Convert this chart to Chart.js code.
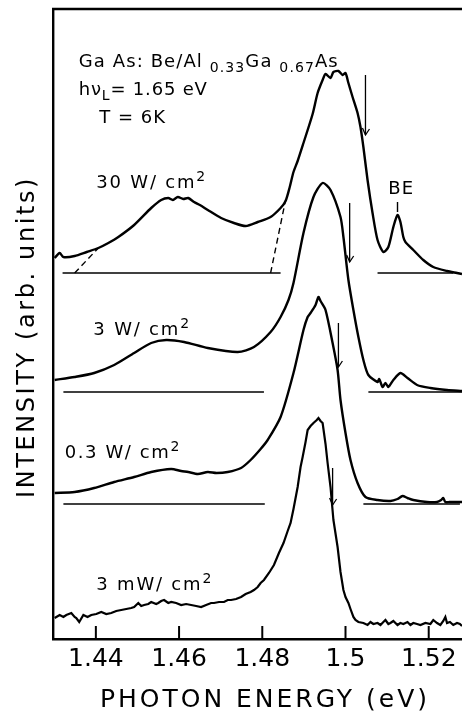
<!DOCTYPE html>
<html>
<head>
<meta charset="utf-8">
<script src="https://cdn.jsdelivr.net/npm/chart.js@4.4.1/dist/chart.umd.min.js"></script>
<style>
html, body { margin: 0; padding: 0; background: #fff; }
#wrap { width: 462px; height: 714px; }
</style>
</head>
<body>
<div id="wrap"><canvas id="myChart" width="462" height="714"></canvas></div>
<script>
// photon energy (eV) vs PL intensity (arb. units)
const xTicks = [1.44, 1.46, 1.48, 1.5, 1.52]

const energy30W = [1.4301,1.4313,1.4322,1.4349,1.4378,1.4406,1.4430,1.4454,1.4492,1.4533,1.4557,1.4574,1.4585,1.4597,1.4610,1.4622,1.4636,1.4650,1.4669,1.4701,1.4732,1.4760,1.4789,1.4820,1.4844,1.4856,1.4866,1.4875,1.4885,1.4899,1.4921,1.4933,1.4945,1.4952,1.4964,1.4971,1.4983,1.4993,1.5000,1.5007,1.5017,1.5029,1.5036,1.5043,1.5053,1.5065,1.5077,1.5091,1.5103,1.5115,1.5125,1.5132,1.5139,1.5144,1.5163,1.5187,1.5211,1.5244,1.5268,1.5280]
const int30W =    [381,386,382,383,387,391,396,402,414,431,439,441,439,442,440,441,437,434,429,421,416,413,417,422,431,438,452,467,478,496,525,546,559,565,561,567,568,564,566,556,542,526,512,492,459,426,399,387,392,412,424,417,402,397,389,379,372,368,366,365]

const energy3W = [1.4301,1.4349,1.4396,1.4444,1.4492,1.4533,1.4569,1.4612,1.4669,1.4741,1.4780,1.4820,1.4844,1.4863,1.4875,1.4899,1.4923,1.4945,1.4964,1.4988,1.4995,1.5007,1.5019,1.5031,1.5043,1.5055,1.5077,1.5081,1.5089,1.5096,1.5103,1.5115,1.5132,1.5149,1.5172,1.5204,1.5244,1.5280]
const int3W =    [259,262,266,274,286,296,299,297,291,287,292,307,322,339,356,406,442,456,449,422,402,359,329,302,279,264,257,260,252,256,252,259,266,261,254,251,249,248]

const energy03W = [1.4301,1.4349,1.4396,1.4444,1.4492,1.4533,1.4581,1.4605,1.4622,1.4645,1.4669,1.4690,1.4717,1.4749,1.4772,1.4796,1.4813,1.4844,1.4875,1.4899,1.4909,1.4916,1.4928,1.4935,1.4940,1.4952,1.4969,1.4981,1.4988,1.5000,1.5012,1.5029,1.5048,1.5077,1.5108,1.5125,1.5137,1.5149,1.5163,1.5196,1.5220,1.5230,1.5235,1.5240,1.5250,1.5280]
const int03W =    [146,147,151,157,162,167,170,168,167,165,167,166,167,171,179,190,199,222,266,309,322,326,334,342,338,329,296,269,239,206,179,156,142,139,138,140,143,141,139,137,137,139,141,137,137,137]

const energy3mW = [1.4301,1.4313,1.4322,1.4329,1.4341,1.4349,1.4353,1.4360,1.4370,1.4380,1.4389,1.4401,1.4413,1.4425,1.4437,1.4449,1.4461,1.4473,1.4485,1.4492,1.4502,1.4509,1.4516,1.4526,1.4533,1.4545,1.4550,1.4557,1.4564,1.4574,1.4581,1.4593,1.4605,1.4617,1.4629,1.4641,1.4653,1.4665,1.4677,1.4684,1.4696,1.4708,1.4717,1.4725,1.4737,1.4749,1.4760,1.4772,1.4780,1.4789,1.4796,1.4804,1.4816,1.4828,1.4840,1.4851,1.4861,1.4868,1.4875,1.4885,1.4892,1.4897,1.4904,1.4909,1.4916,1.4923,1.4931,1.4935,1.4940,1.4945,1.4952,1.4957,1.4964,1.4971,1.4981,1.4988,1.4995,1.5000,1.5007,1.5012,1.5019,1.5024,1.5031,1.5043,1.5053,1.5060,1.5067,1.5077,1.5084,1.5091,1.5096,1.5103,1.5108,1.5115,1.5125,1.5132,1.5139,1.5149,1.5156,1.5163,1.5172,1.5180,1.5192,1.5204,1.5211,1.5220,1.5228,1.5235,1.5240,1.5244,1.5251,1.5259,1.5268,1.5275,1.5280]
const int3mW =    [21,24,22,24,26,22,21,17,24,22,24,25,27,25,26,28,29,30,31,32,36,33,34,35,37,35,36,38,39,36,37,36,34,35,34,33,32,34,36,36,37,37,39,39,40,42,45,47,49,52,56,59,66,74,86,96,108,116,130,152,172,182,197,209,213,216,219,221,218,216,195,176,152,119,92,67,49,42,36,30,22,19,17,16,14,17,15,16,14,17,19,15,16,18,14,16,15,17,14,16,15,14,16,15,19,16,14,18,22,16,17,14,16,15,13]

// zero lines under each spectrum: [from, to] energies and the level
const baseLevels = [366, 247, 135]
const baseLeft =  [[1.4320, 1.4844], [1.4322, 1.4804], [1.4322, 1.4806]]
const baseRight = [[1.5077, 1.5259], [1.5055, 1.5280], [1.5043, 1.5275]]

// dashed background extrapolations for the 30 W/cm2 spectrum
const dashA = [[1.4349, 366], [1.4406, 391]]
const dashB = [[1.4820, 366], [1.4856, 439]]

// arrows: energy, top, tip
const arrows = [[1.5048, 564, 504], [1.5010, 436, 377], [1.4983, 316, 272], [1.4969, 171, 134]]

const zip = (xs, ys) => xs.map((x, i) => ({x: x, y: ys[i]}))
const seg = (a, b, y) => [{x: a, y: y}, {x: b, y: y}]

const datasets = []
const curve = (data, label) => datasets.push({label: label, data: data, borderColor: '#000', borderWidth: 2.4, tension: 0.25, pointRadius: 0, fill: false})
curve(zip(energy30W, int30W), '30 W/cm2')
curve(zip(energy3W, int3W), '3 W/cm2')
curve(zip(energy03W, int03W), '0.3 W/cm2')
datasets.push({label: '3 mW/cm2', data: zip(energy3mW, int3mW), borderColor: '#000', borderWidth: 2.2, tension: 0, pointRadius: 0, fill: false})

baseLevels.forEach((lv, i) => {
    datasets.push({data: seg(baseLeft[i][0], baseLeft[i][1], lv), borderColor: '#000', borderWidth: 1.4, pointRadius: 0})
    datasets.push({data: seg(baseRight[i][0], baseRight[i][1], lv), borderColor: '#000', borderWidth: 1.4, pointRadius: 0})
})
;[dashA, dashB].forEach(d => {
    datasets.push({data: d.map(p => ({x: p[0], y: p[1]})), borderColor: '#000', borderWidth: 1.4, borderDash: [6, 4], pointRadius: 0})
})
arrows.forEach(a => {
    datasets.push({data: [{x: a[0], y: a[1]}, {x: a[0], y: a[2]}], borderColor: '#000', borderWidth: 1.3, pointRadius: 0, arrow: true})
})
// little mark under "BE"
datasets.push({data: [{x: 1.5125, y: 437}, {x: 1.5125, y: 427}], borderColor: '#000', borderWidth: 1.4, pointRadius: 0})

// text labels, anchored in data units (left edge, baseline)
const notes = [
    {x: 1.4359, y: 572, size: 18, sp: 1.1, parts: [{t: 'Ga As: Be/Al '}, {t: '0.33', sub: true}, {t: 'Ga '}, {t: '0.67', sub: true}, {t: 'As'}]},
    {x: 1.4359, y: 544, size: 18, sp: 0.8, parts: [{t: 'hν'}, {t: 'L', sub: true}, {t: '= 1.65 eV'}]},
    {x: 1.4408, y: 516, size: 18, sp: 1, parts: [{t: 'T = 6K'}]},
    {x: 1.4401, y: 451, size: 18, sp: 1.8, parts: [{t: '30 W/ cm'}, {t: '2', sup: true}]},
    {x: 1.4394, y: 304, size: 18, sp: 1.8, parts: [{t: '3 W/ cm'}, {t: '2', sup: true}]},
    {x: 1.4325, y: 181, size: 18, sp: 1.6, parts: [{t: '0.3 W/ cm'}, {t: '2', sup: true}]},
    {x: 1.4401, y: 49, size: 18, sp: 1.8, parts: [{t: '3 mW/ cm'}, {t: '2', sup: true}]},
    {x: 1.5103, y: 445, size: 18, sp: 1, parts: [{t: 'BE'}]},
]

const FONT = '"DejaVu Sans", sans-serif'

const decor = {
    id: 'decor',
    afterDraw(chart) {
        const ctx = chart.ctx
        const xs = chart.scales.x, ys = chart.scales.y
        const area = chart.chartArea
        ctx.save()
        ctx.strokeStyle = '#000'
        ctx.fillStyle = '#000'

        // top frame line
        ctx.lineWidth = 2.4
        ctx.beginPath()
        ctx.moveTo(area.left - 1, area.top)
        ctx.lineTo(area.right, area.top)
        ctx.stroke()

        // inward ticks
        ctx.lineWidth = 2
        xTicks.forEach(v => {
            const px = xs.getPixelForValue(v)
            ctx.beginPath()
            ctx.moveTo(px, area.bottom)
            ctx.lineTo(px, area.bottom - 13)
            ctx.stroke()
        })

        // arrow heads
        chart.data.datasets.forEach((ds, i) => {
            if (!ds.arrow) return
            const tip = chart.getDatasetMeta(i).data[1]
            ctx.lineWidth = 1.3
            ctx.beginPath()
            ctx.moveTo(tip.x - 3, tip.y - 7)
            ctx.lineTo(tip.x, tip.y)
            ctx.lineTo(tip.x + 4, tip.y - 6)
            ctx.stroke()
        })

        // notes
        ctx.textBaseline = 'alphabetic'
        ctx.textAlign = 'left'
        notes.forEach(n => {
            let px = xs.getPixelForValue(n.x)
            const py = ys.getPixelForValue(n.y)
            ctx.letterSpacing = n.sp + 'px'
            n.parts.forEach(p => {
                const size = (p.sub || p.sup) ? Math.round(n.size * 0.75) : n.size
                ctx.font = size + 'px ' + FONT
                const dy = p.sub ? 5 : (p.sup ? -7 : 0)
                ctx.fillText(p.t, px, py + dy)
                px += ctx.measureText(p.t).width
            })
        })

        // axis titles
        ctx.letterSpacing = '3px'
        ctx.font = '25px ' + FONT
        ctx.textAlign = 'center'
        ctx.fillText('PHOTON ENERGY (eV)', 265, 707)
        ctx.save()
        ctx.translate(34, 337)
        ctx.rotate(-Math.PI / 2)
        ctx.letterSpacing = '2.6px'
        ctx.font = '24px ' + FONT
        ctx.fillText('INTENSITY (arb. units)', 0, 0)
        ctx.restore()

        ctx.restore()
    }
}

new Chart(document.getElementById('myChart').getContext('2d'), {
    type: 'line',
    data: {datasets: datasets},
    options: {
        responsive: false,
        animation: false,
        devicePixelRatio: 1,
        layout: {padding: {top: 9, right: 0, left: 0, bottom: 0}},
        plugins: {legend: {display: false}, tooltip: {enabled: false}},
        scales: {
            x: {
                type: 'linear',
                min: 1.4297,
                max: 1.528,
                afterFit: s => { s.height = 75 },
                afterBuildTicks: s => { s.ticks = xTicks.map(v => ({value: v})) },
                grid: {display: false, drawTicks: false},
                border: {display: true, color: '#000', width: 2.4},
                ticks: {
                    color: '#000',
                    font: {family: FONT, size: 25},
                    padding: 5,
                    maxRotation: 0,
                    autoSkip: false,
                    callback: v => String(+v.toFixed(2))
                }
            },
            y: {
                type: 'linear',
                min: 0,
                max: 630,
                afterFit: s => { s.width = 53 },
                grid: {display: false, drawTicks: false},
                border: {display: true, color: '#000', width: 2.4},
                ticks: {display: false}
            }
        }
    },
    plugins: [decor]
})
</script>
</body>
</html>
